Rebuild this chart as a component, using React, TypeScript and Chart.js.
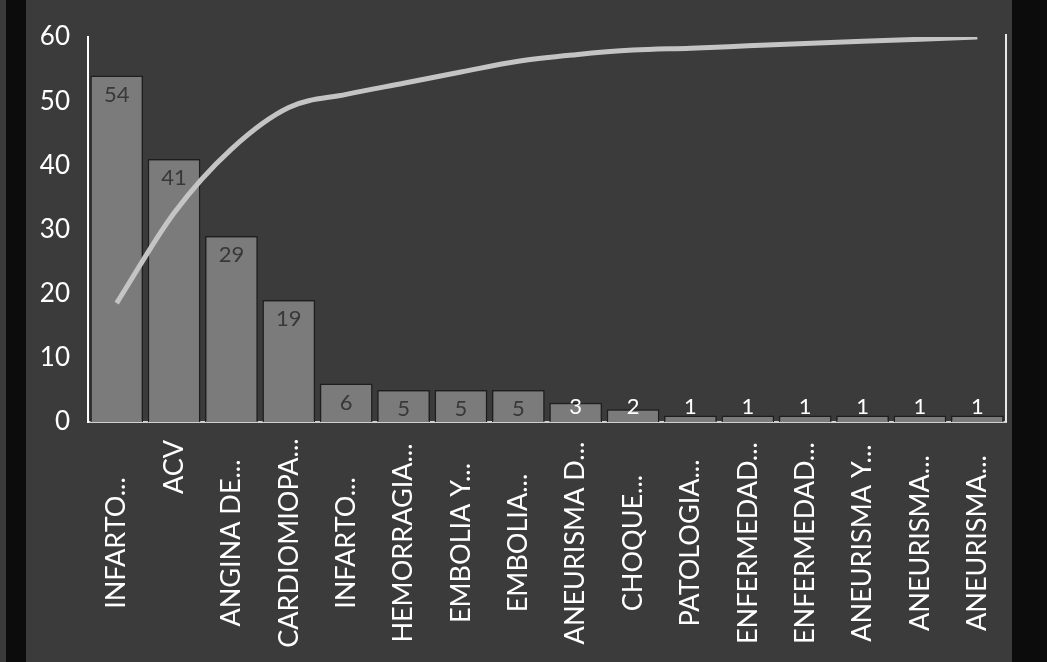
import React, { useEffect, useRef } from "react";
import { Chart, registerables } from "chart.js";

Chart.register(...registerables);

const categories = [
  "INFARTO...", "ACV", "ANGINA DE...", "CARDIOMIOPA...", "INFARTO...", "HEMORRAGIA...",
  "EMBOLIA Y...", "EMBOLIA...", "ANEURISMA D...", "CHOQUE...", "PATOLOGIA...",
  "ENFERMEDAD...", "ENFERMEDAD...", "ANEURISMA Y...", "ANEURISMA...", "ANEURISMA...",
];
const counts = [54, 41, 29, 19, 6, 5, 5, 5, 3, 2, 1, 1, 1, 1, 1, 1];
const cumulativePct = [30.9, 54.3, 70.9, 81.7, 85.1, 88.0, 90.9, 93.7, 95.4, 96.6, 97.1, 97.7, 98.3, 98.9, 99.4, 100];
const yTicks = [0, 10, 20, 30, 40, 50, 60];

const FONT = "Lato, 'Open Sans', sans-serif";

const labelPlugin = {
  id: "barLabels",
  afterDatasetsDraw(chart: any) {
    const ctx = chart.ctx;
    const meta = chart.getDatasetMeta(0);
    const area = chart.chartArea;
    ctx.save();
    ctx.font = `22px ${FONT}`;
    ctx.textAlign = "center";
    ctx.textBaseline = "middle";
    meta.data.forEach((bar: any, i: number) => {
      const h = bar.base - bar.y;
      const fits = h >= 28;
      const y = fits ? bar.y + 19 : bar.base - 15;
      ctx.fillStyle = fits ? "#383838" : "#ffffff";
      ctx.fillText(String(counts[i]), bar.x, y);
    });
    // right border of plot
    ctx.strokeStyle = "#e8e8e8";
    ctx.lineWidth = 2;
    ctx.beginPath();
    ctx.moveTo(area.right, area.top - 3);
    ctx.lineTo(area.right, area.bottom);
    ctx.stroke();

    // category labels, rotated
    const xs = chart.scales.x;
    ctx.font = `27px ${FONT}`;
    ctx.fillStyle = "#ffffff";
    ctx.textBaseline = "middle";
    categories.forEach((c, i) => {
      const x = xs.getPixelForTick(i);
      ctx.save();
      ctx.translate(x, 0);
      ctx.rotate(-Math.PI / 2);
      const truncated = c.endsWith("...");
      if (truncated) {
        ctx.textAlign = "center";
        ctx.fillText(c, -543, 0);
      } else {
        ctx.textAlign = "right";
        ctx.fillText(c, -440, 0);
      }
      ctx.restore();
    });
    ctx.restore();
  },
};

const bgPlugin = {
  id: "bg",
  beforeDraw(chart: any) {
    const ctx = chart.ctx;
    ctx.save();
    ctx.fillStyle = "#3b3b3b";
    ctx.fillRect(0, 0, chart.width, chart.height);
    ctx.fillStyle = "#0c0c0c";
    ctx.fillRect(1012, 0, chart.width - 1012, chart.height);
    ctx.fillRect(6, 0, 20, chart.height);
    ctx.restore();
  },
};

export default function App() {
  const ref = useRef<HTMLCanvasElement>(null);
  useEffect(() => {
    document.body.style.margin = "0";
    const chart = new Chart(ref.current!, {
      type: "bar",
      data: {
        labels: categories,
        datasets: [
          {
            type: "bar",
            data: counts,
            backgroundColor: "#7b7b7b",
            borderColor: "#1e1e1e",
            borderWidth: 1.5,
            barPercentage: 0.92,
            categoryPercentage: 1,
            order: 1,
          },
          {
            type: "line",
            data: cumulativePct,
            yAxisID: "y2",
            borderColor: "#c4c4c4",
            borderWidth: 5,
            pointRadius: 0,
            tension: 0.4,
            cubicInterpolationMode: "monotone",
            order: 0,
          } as any,
        ] as any,
      },
      options: {
        animation: false,
        responsive: false,
        layout: { padding: { top: 37, right: 41, left: 0, bottom: 0 } },
        plugins: { legend: { display: false }, tooltip: { enabled: false } },
        scales: {
          x: {
            grid: { display: false, drawTicks: false },
            border: { color: "#d0d0d0", width: 2 },
            ticks: { display: false },
            afterFit: (s: any) => { s.height = 240; },
          },
          y: {
            min: 0,
            max: 60,
            grid: { display: false, drawTicks: false },
            border: { color: "#ffffff", width: 2 },
            afterBuildTicks: (s: any) => { s.ticks = yTicks.map((v) => ({ value: v })); },
            ticks: {
              color: "#ffffff",
              font: { family: FONT, size: 26 },
              padding: 18,
            },
            afterFit: (s: any) => { s.width = 88; },
          },
          y2: {
            min: 0,
            max: 100,
            display: false,
          },
        },
      },
      plugins: [bgPlugin, labelPlugin],
    });
    return () => chart.destroy();
  }, []);
  return <canvas ref={ref} width={1047} height={662} style={{ display: "block" }} />;
}
